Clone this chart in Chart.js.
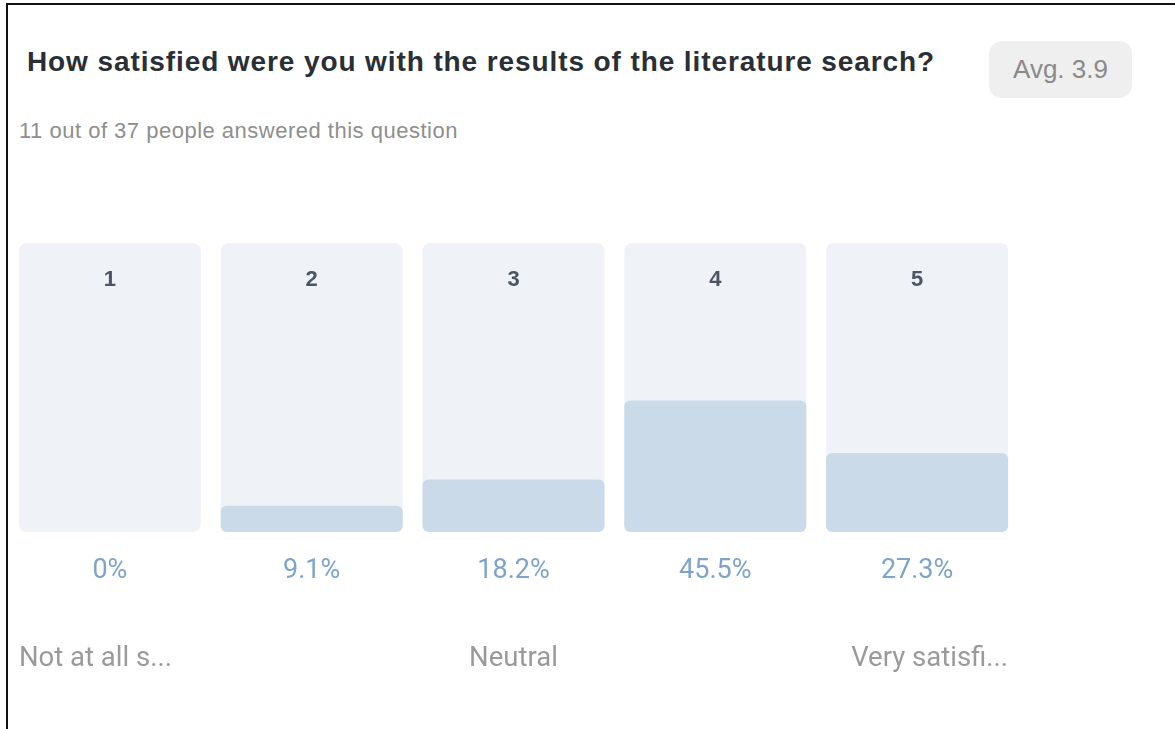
<!DOCTYPE html>
<html>
<head>
<meta charset="utf-8">
<script src="https://cdn.jsdelivr.net/npm/chart.js@4"></script>
<style>
  html, body { margin: 0; padding: 0; background: #fff; }
  #wrap { position: relative; width: 1175px; height: 729px; overflow: hidden; }
  #frame { position: absolute; left: 6px; top: 3px; width: 1300px; height: 900px;
           border-left: 2px solid #111; border-top: 2px solid #111; }
  #title { position: absolute; left: 27px; top: 46px; font: bold 28px "Liberation Sans", Arial, sans-serif;
           letter-spacing: 0.9px; color: #2a2f36; white-space: nowrap; }
  #sub { position: absolute; left: 19px; top: 118px; font: 22px "Liberation Sans", Arial, sans-serif;
         letter-spacing: 0.5px; color: #8e8e8e; white-space: nowrap; }
  #avg { position: absolute; left: 989px; top: 41px; width: 143px; height: 57px; border-radius: 13px;
         background: #efefef; color: #8a8a8a; font: 26px "Liberation Sans", Arial, sans-serif;
         display: flex; align-items: center; justify-content: center; }
  canvas { position: absolute; left: 0; top: 0; }
</style>
</head>
<body>
<div id="wrap">
  <div id="frame"></div>
  <div id="title">How satisfied were you with the results of the literature search?</div>
  <div id="sub">11 out of 37 people answered this question</div>
  <div id="avg">Avg. 3.9</div>
  <canvas id="chart" width="1175" height="729"></canvas>
</div>
<script>
// rating scale 1..5, share of answers in percent
const ratings = ['1', '2', '3', '4', '5'];
const percents = [0, 9.1, 18.2, 45.5, 27.3];
const fullScale = [100, 100, 100, 100, 100];
const scaleLabels = ['Not at all s...', '', 'Neutral', '', 'Very satisfi...'];

const labelPlugin = {
  id: 'labels',
  afterDatasetsDraw(chart) {
    const ctx = chart.ctx;
    const bars = chart.getDatasetMeta(1).data;
    ctx.save();
    bars.forEach((bar, i) => {
      const left = bar.x - bar.width / 2;
      const right = bar.x + bar.width / 2;

      ctx.textBaseline = 'middle';
      ctx.textAlign = 'center';
      ctx.fillStyle = '#4b5563';
      ctx.font = 'bold 22px "Liberation Sans", Arial, sans-serif';
      ctx.fillText(ratings[i], bar.x, 280);

      const v = percents[i];
      ctx.fillStyle = '#7ea4cc';
      ctx.font = '27px Roboto, sans-serif';
      ctx.fillText(v === 0 ? '0%' : v.toFixed(1) + '%', bar.x, 571);

      ctx.fillStyle = '#9a9a9a';
      ctx.font = '27.5px Roboto, sans-serif';
      let x = bar.x;
      if (i === 0) { ctx.textAlign = 'left'; x = left; }
      else if (i === ratings.length - 1) { ctx.textAlign = 'right'; x = right; }
      ctx.fillText(scaleLabels[i], x, 659);
    });
    ctx.restore();
  }
};

new Chart(document.getElementById('chart'), {
  type: 'bar',
  data: {
    labels: ratings,
    datasets: [
      {
        label: 'Answers',
        data: percents,
        backgroundColor: '#cadae8',
        borderRadius: 6,
        borderSkipped: false,
        grouped: false,
        order: 0
      },
      {
        label: 'Track',
        data: fullScale,
        backgroundColor: '#eff3f8',
        borderRadius: 8,
        borderSkipped: false,
        grouped: false,
        order: 1
      }
    ]
  },
  options: {
    responsive: false,
    animation: false,
    layout: { padding: { left: 9, right: 157, top: 243, bottom: 197 } },
    datasets: { bar: { categoryPercentage: 1, barPercentage: 0.902 } },
    plugins: { legend: { display: false }, tooltip: { enabled: false } },
    scales: {
      x: { display: false },
      y: { display: false, min: 0, max: 100 }
    }
  },
  plugins: [labelPlugin]
});
</script>
</body>
</html>
